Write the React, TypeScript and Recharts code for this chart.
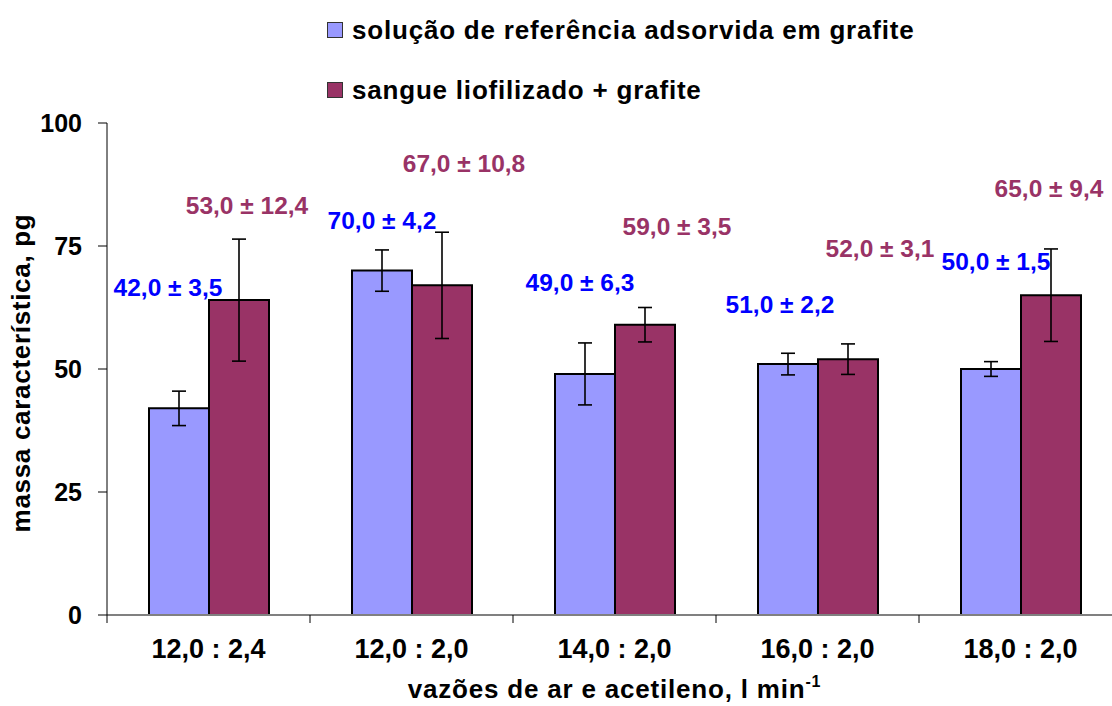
import React from 'react';
import {
  BarChart,
  Bar,
  XAxis,
  YAxis,
  ErrorBar,
  LabelList,
} from 'recharts';

const CATEGORIES = ['12,0 : 2,4', '12,0 : 2,0', '14,0 : 2,0', '16,0 : 2,0', '18,0 : 2,0'];
const SERIES_NAMES = ['solução de referência adsorvida em grafite', 'sangue liofilizado + grafite'];

// solução de referência
const REF_MEAN = [42, 70, 49, 51, 50];
const REF_SD = [3.5, 4.2, 6.3, 2.2, 1.5];

// sangue liofilizado (the printed label of the first group reads 53,0 although the bar sits at 64)
const BLOOD_MEAN = [64, 67, 59, 52, 65];
const BLOOD_SD = [12.4, 10.8, 3.5, 3.1, 9.4];
const BLOOD_LABEL_MEAN = [53, 67, 59, 52, 65];

const Y_TICKS = [0, 25, 50, 75, 100];

// hand-placed label offsets (dx from bar centre, dy from bar top), like the moved Excel labels
const REF_LABEL_OFFSET = [[-11, -121], [0, -50], [-5, -91], [-8, -60], [5, -108]];
const BLOOD_LABEL_OFFSET = [[8, -95], [22, -122], [32, -98], [32, -111], [-2, -107]];

const COLORS = ['#9999FF', '#993366'];
const LABEL_COLORS = ['#0000FF', '#993366'];
const FONT = '"Liberation Sans", Arial, sans-serif';

const fmt = (v: number) => v.toFixed(1).replace('.', ',');

// note: no "ref" key here, recharts spreads entries onto elements
const data = CATEGORIES.map((name, i) => ({
  name,
  solucao: REF_MEAN[i],
  solucaoErr: REF_SD[i],
  solucaoLabel: `${fmt(REF_MEAN[i])} ± ${fmt(REF_SD[i])}`,
  sangue: BLOOD_MEAN[i],
  sangueErr: BLOOD_SD[i],
  sangueLabel: `${fmt(BLOOD_LABEL_MEAN[i])} ± ${fmt(BLOOD_SD[i])}`,
}));

const makeLabel = (offsets: number[][], color: string) => (props: any) => {
  const vb = props.viewBox || {};
  const x = props.x ?? vb.x;
  const y = props.y ?? vb.y;
  const w = props.width ?? vb.width;
  const idx = props.index ?? 0;
  const [dx, dy] = offsets[idx] || [0, 0];
  return (
    <text
      x={x + w / 2 + dx}
      y={y + dy}
      textAnchor="middle"
      dominantBaseline="central"
      fill={color}
      fontFamily={FONT}
      fontWeight="bold"
      fontSize={24.5}
    >
      {props.value}
    </text>
  );
};

const renderCategoryTick = (props: any) => {
  const { x, y, payload, width, visibleTicksCount, index } = props;
  const band = width && visibleTicksCount ? width / visibleTicksCount : 203;
  const axisY = y - 26;
  return (
    <g>
      <line x1={x - band / 2} x2={x - band / 2} y1={axisY} y2={axisY + 8} stroke="#000" strokeWidth={1} />
      {index === visibleTicksCount - 1 && (
        <line x1={x + band / 2} x2={x + band / 2} y1={axisY} y2={axisY + 8} stroke="#000" strokeWidth={1} />
      )}
      <text x={x} y={y + 17} textAnchor="middle" fill="#000" fontFamily={FONT} fontWeight="bold" fontSize={27}>
        {payload.value}
      </text>
    </g>
  );
};

const renderXTitle = (props: any) => {
  const vb = props.viewBox;
  return (
    <text
      x={vb.x + vb.width / 2}
      y={vb.y + 83}
      textAnchor="middle"
      fill="#000"
      fontFamily={FONT}
      fontWeight="bold"
      fontSize={26}
      letterSpacing={0.8}
    >
      <tspan>vazões de ar e acetileno, l min</tspan>
      <tspan dy={-11} fontSize={16}>-1</tspan>
    </text>
  );
};

const renderYTitle = (props: any) => {
  const vb = props.viewBox;
  const cx = vb.x + 30;
  const cy = vb.y + vb.height / 2 + 4;
  return (
    <text
      x={cx}
      y={cy}
      transform={`rotate(-90, ${cx}, ${cy})`}
      textAnchor="middle"
      fill="#000"
      fontFamily={FONT}
      fontWeight="bold"
      fontSize={26}
      letterSpacing={0.7}
    >
      massa característica, pg
    </text>
  );
};

function LegendBox() {
  const rows = [30, 90];
  return (
    <>
      {SERIES_NAMES.map((name, i) => (
        <div
          key={name}
          style={{
            position: 'absolute',
            left: 327,
            top: rows[i] - 16,
            height: 32,
            display: 'flex',
            alignItems: 'center',
            fontFamily: FONT,
            fontWeight: 'bold',
            fontSize: 26,
            letterSpacing: 0.8,
            color: '#000',
            whiteSpace: 'nowrap',
          }}
        >
          <span
            style={{
              width: 14,
              height: 14,
              background: COLORS[i],
              border: '1.5px solid #333',
              marginRight: 9,
              flexShrink: 0,
            }}
          />
          {name}
        </div>
      ))}
    </>
  );
}

export default function App() {
  return (
    <div style={{ position: 'absolute', left: 0, top: 0, width: 1112, height: 706, overflow: 'hidden', background: '#fff' }}>
      <BarChart
        width={1122}
        height={706}
        data={data}
        margin={{ top: 123, right: 0, bottom: 31, left: 0 }}
        barGap={0}
      >
        <XAxis
          dataKey="name"
          height={60}
          axisLine={{ stroke: '#808080', strokeWidth: 2 }}
          tickLine={false}
          tickSize={0}
          tickMargin={26}
          tick={renderCategoryTick}
          interval={0}
          label={{ content: renderXTitle }}
        />
        <YAxis
          width={107}
          domain={[0, 100]}
          ticks={Y_TICKS}
          axisLine={{ stroke: '#000', strokeWidth: 1 }}
          tickLine={{ stroke: '#000', strokeWidth: 1 }}
          tickSize={9}
          tickMargin={16}
          tick={{ fill: '#000', fontFamily: FONT, fontWeight: 'bold', fontSize: 25 }}
          label={{ content: renderYTitle }}
        />
        <Bar dataKey="solucao" fill={COLORS[0]} stroke="#000" strokeWidth={2} barSize={60} isAnimationActive={false}>
          <ErrorBar dataKey="solucaoErr" direction="y" width={7} stroke="#000" strokeWidth={1.6} />
          <LabelList dataKey="solucaoLabel" content={makeLabel(REF_LABEL_OFFSET, LABEL_COLORS[0])} />
        </Bar>
        <Bar dataKey="sangue" fill={COLORS[1]} stroke="#000" strokeWidth={2} barSize={60} isAnimationActive={false}>
          <ErrorBar dataKey="sangueErr" direction="y" width={7} stroke="#000" strokeWidth={1.6} />
          <LabelList dataKey="sangueLabel" content={makeLabel(BLOOD_LABEL_OFFSET, LABEL_COLORS[1])} />
        </Bar>
      </BarChart>
      <LegendBox />
    </div>
  );
}
